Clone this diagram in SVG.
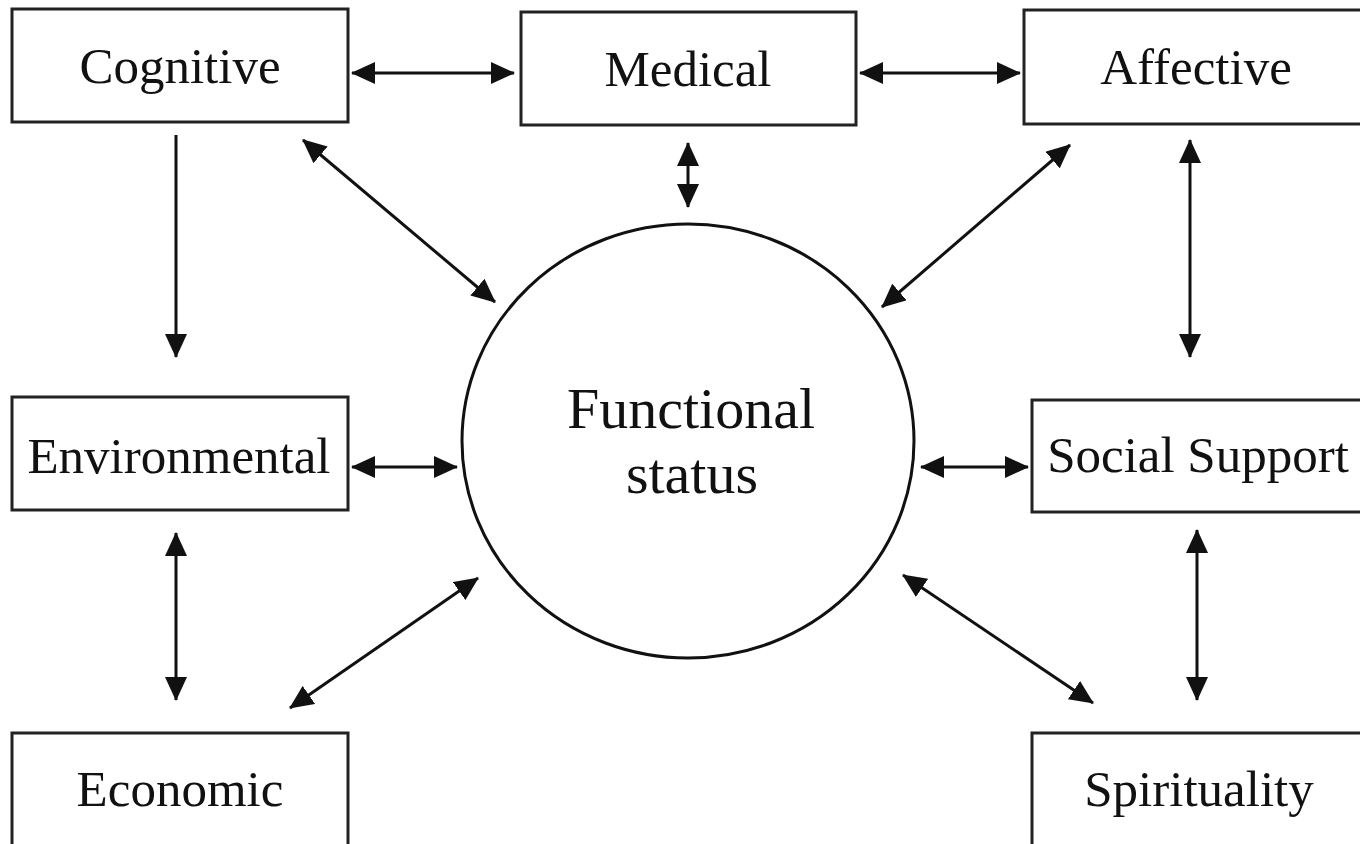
<svg xmlns="http://www.w3.org/2000/svg" width="1360" height="844" viewBox="0 0 1360 844">
<style>
.box{fill:#fff;stroke:#222;stroke-width:3}
.lbl{font-family:"Liberation Serif","Times New Roman",serif;font-size:51px;fill:#111;text-anchor:middle}
.big{font-family:"Liberation Serif","Times New Roman",serif;font-size:58px;fill:#111;text-anchor:middle}
.con{stroke:#111;stroke-width:3;fill:none}
</style>
<defs>
<marker id="ah" viewBox="0 0 24 22" refX="23" refY="11" markerWidth="24" markerHeight="22" markerUnits="userSpaceOnUse" orient="auto-start-reverse">
<path d="M0,0 L24,11 L0,22 Z" fill="#111"/>
</marker>
</defs>
<rect width="1360" height="844" fill="#fff"/>
<g id="cognitive"><rect class="box" x="12" y="9" width="336" height="113"/><text class="lbl" x="180" y="83">Cognitive</text></g>
<g id="medical"><rect class="box" x="521" y="12" width="335" height="113"/><text class="lbl" x="688" y="86">Medical</text></g>
<g id="affective"><rect class="box" x="1024" y="10" width="340" height="114"/><text class="lbl" x="1196" y="84">Affective</text></g>
<g id="environmental"><rect class="box" x="12" y="397" width="336" height="113"/><text class="lbl" x="179" y="473">Environmental</text></g>
<g id="social"><rect class="box" x="1032" y="400" width="332" height="112"/><text class="lbl" x="1198" y="472">Social Support</text></g>
<g id="economic"><rect class="box" x="12" y="733" width="336" height="120"/><text class="lbl" x="180" y="806">Economic</text></g>
<g id="spirituality"><rect class="box" x="1032" y="733" width="332" height="120"/><text class="lbl" x="1199" y="806">Spirituality</text></g>
<g id="functional"><ellipse cx="688" cy="441" rx="226" ry="217" fill="#fff" stroke="#111" stroke-width="3"/><text class="big" x="691" y="428">Functional</text><text class="big" x="692" y="493">status</text></g>
<g id="connectors">
<line class="con" x1="352" y1="73" x2="514" y2="73" marker-start="url(#ah)" marker-end="url(#ah)"/>
<line class="con" x1="860" y1="73" x2="1020" y2="73" marker-start="url(#ah)" marker-end="url(#ah)"/>
<line class="con" x1="688" y1="143" x2="688" y2="207" marker-start="url(#ah)" marker-end="url(#ah)"/>
<line class="con" x1="303" y1="140" x2="495" y2="302" marker-start="url(#ah)" marker-end="url(#ah)"/>
<line class="con" x1="1070" y1="145" x2="882" y2="307" marker-start="url(#ah)" marker-end="url(#ah)"/>
<line class="con" x1="176" y1="135" x2="176" y2="357" marker-end="url(#ah)"/>
<line class="con" x1="1190" y1="140" x2="1190" y2="357" marker-start="url(#ah)" marker-end="url(#ah)"/>
<line class="con" x1="352" y1="467" x2="457" y2="467" marker-start="url(#ah)" marker-end="url(#ah)"/>
<line class="con" x1="921" y1="467" x2="1028" y2="467" marker-start="url(#ah)" marker-end="url(#ah)"/>
<line class="con" x1="176" y1="533" x2="176" y2="700" marker-start="url(#ah)" marker-end="url(#ah)"/>
<line class="con" x1="290" y1="708" x2="478" y2="578" marker-start="url(#ah)" marker-end="url(#ah)"/>
<line class="con" x1="903" y1="575" x2="1093" y2="703" marker-start="url(#ah)" marker-end="url(#ah)"/>
<line class="con" x1="1197" y1="530" x2="1197" y2="700" marker-start="url(#ah)" marker-end="url(#ah)"/>
</g>
</svg>
